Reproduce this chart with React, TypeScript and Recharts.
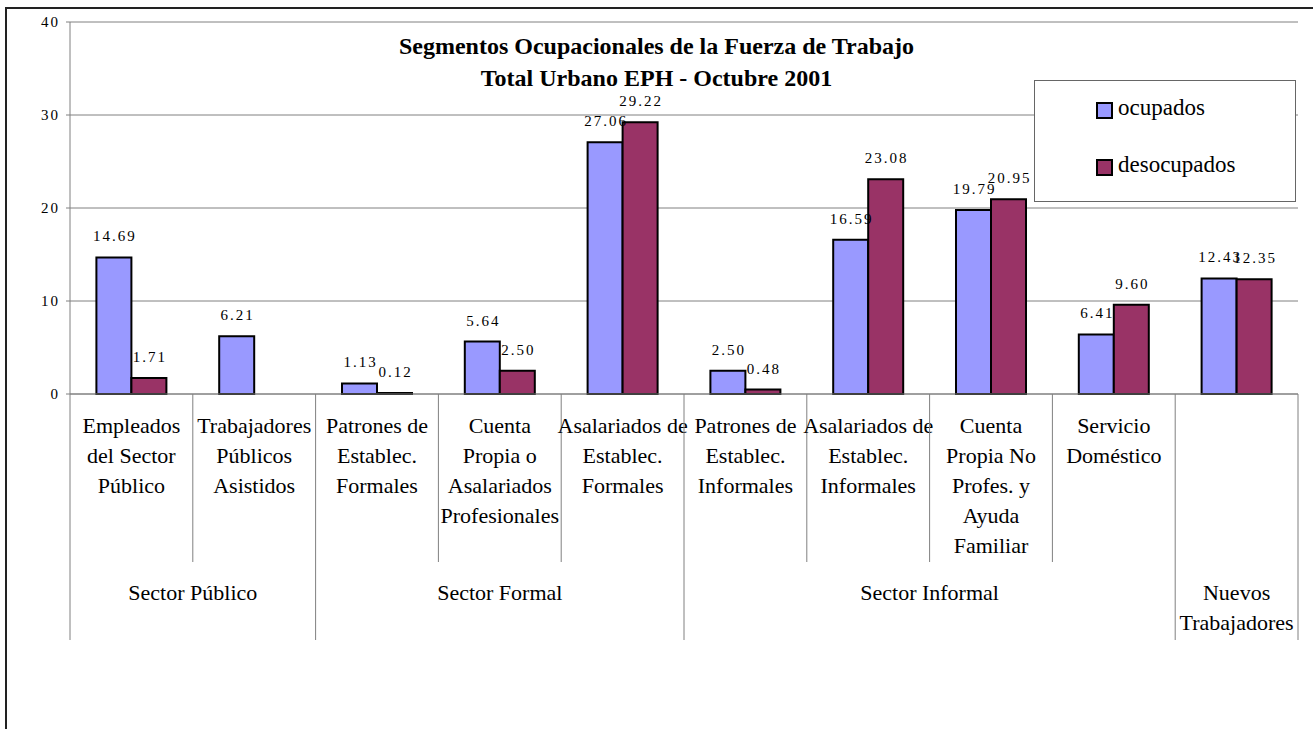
import React from "react";
import { BarChart, Bar, XAxis, YAxis, CartesianGrid, LabelList } from "recharts";

const SERIF = "'Liberation Serif', 'Times New Roman', serif";

// first level category labels (already broken into lines as in the original)
const categories = [
  ["Empleados", "del Sector", "Público"],
  ["Trabajadores", "Públicos", "Asistidos"],
  ["Patrones de", "Establec.", "Formales"],
  ["Cuenta", "Propia o", "Asalariados", "Profesionales"],
  ["Asalariados de", "Establec.", "Formales"],
  ["Patrones de", "Establec.", "Informales"],
  ["Asalariados de", "Establec.", "Informales"],
  ["Cuenta", "Propia No", "Profes. y", "Ayuda", "Familiar"],
  ["Servicio", "Doméstico"],
  [],
];

// second level groups and how many categories each covers
const groups = [["Sector Público"], ["Sector Formal"], ["Sector Informal"], ["Nuevos", "Trabajadores"]];
const groupSpans = [2, 3, 4, 1];

const seriesNames = ["ocupados", "desocupados"];
const seriesColors = ["#9999FF", "#993366"];

const ocupados = [14.69, 6.21, 1.13, 5.64, 27.06, 2.5, 16.59, 19.79, 6.41, 12.43];
const desocupados = [1.71, null, 0.12, 2.5, 29.22, 0.48, 23.08, 20.95, 9.6, 12.35];

const yTicks = [0, 10, 20, 30, 40];

const titleLines = ["Segmentos Ocupacionales de la Fuerza de Trabajo", "Total Urbano EPH - Octubre 2001"];

const data = categories.map((c, i) => ({
  name: c.join(" ") || "—" + i,
  ocupados: ocupados[i],
  desocupados: desocupados[i],
}));

const W = 1313;
const H = 729;
const margin = { top: 22, right: 15, bottom: 85, left: 8 };
const Y_AXIS_W = 62;
const PLOT_W = W - margin.left - margin.right - Y_AXIS_W;
const GRID = "#808080";

// index of first category of each group
const groupStarts: number[] = [];
groupSpans.reduce((acc, s) => {
  groupStarts.push(acc);
  return acc + s;
}, 0);

const CategoryTick = (props: any) => {
  const { x, y, index } = props;
  const bw = PLOT_W / categories.length;
  const left = x - bw / 2;
  const g = groupStarts.indexOf(index);
  const isStart = g >= 0;
  const last = index === categories.length - 1;
  const lines = categories[index] || [];
  return (
    <g>
      <line x1={left} x2={left} y1={y} y2={y + (isStart ? 246 : 168)} stroke={GRID} strokeWidth={1} />
      {last && <line x1={left + bw} x2={left + bw} y1={y} y2={y + 246} stroke={GRID} strokeWidth={1} />}
      <text x={x} y={y + 39} textAnchor="middle" fontFamily={SERIF} fontSize={22} fill="#000">
        {lines.map((l, k) => (
          <tspan key={k} x={x} dy={k === 0 ? 0 : 30}>
            {l}
          </tspan>
        ))}
      </text>
      {isStart && (
        <text
          x={left + (groupSpans[g] * bw) / 2}
          y={y + 206}
          textAnchor="middle"
          fontFamily={SERIF}
          fontSize={22}
          fill="#000"
        >
          {groups[g].map((l, k) => (
            <tspan key={k} x={left + (groupSpans[g] * bw) / 2} dy={k === 0 ? 0 : 30}>
              {l}
            </tspan>
          ))}
        </text>
      )}
    </g>
  );
};

const ValueTick = (props: any) => {
  const { x, y, payload } = props;
  return (
    <text x={x + 2} y={y} dy={5} textAnchor="end" fontFamily={SERIF} fontSize={15} letterSpacing={2} fill="#000">
      {payload.value}
    </text>
  );
};

const renderLabel = (p: any) => {
  const { x, y, width, value } = p;
  if (value === null || value === undefined) return null;
  return (
    <text
      x={x + width / 2 + 1}
      y={y - 16}
      textAnchor="middle"
      fontFamily={SERIF}
      fontSize={15}
      letterSpacing={2}
      fill="#000"
    >
      {Number(value).toFixed(2)}
    </text>
  );
};

export default function App() {
  return (
    <div
      style={{
        position: "absolute",
        left: 0,
        top: 0,
        width: W,
        height: H,
        overflow: "hidden",
        background: "#fff",
        fontFamily: SERIF,
      }}
    >
      <div
        style={{
          position: "absolute",
          left: 5,
          top: 7,
          width: W + 50,
          height: H + 50,
          borderLeft: "2px solid #222",
          borderTop: "2px solid #222",
        }}
      />
      <div style={{ position: "absolute", left: 0, top: 0 }}>
        <BarChart width={W} height={H} data={data} margin={margin} barCategoryGap="21.5%" barGap={0}>
          <CartesianGrid vertical={false} stroke={GRID} strokeWidth={1} />
          <XAxis
            dataKey="name"
            interval={0}
            height={250}
            tickSize={0}
            tickMargin={0}
            tickLine={false}
            axisLine={{ stroke: GRID }}
            tick={<CategoryTick />}
          />
          <YAxis
            width={Y_AXIS_W}
            domain={[0, 40]}
            ticks={yTicks}
            interval={0}
            tickSize={4}
            tickMargin={8}
            axisLine={{ stroke: GRID }}
            tickLine={{ stroke: GRID }}
            tick={<ValueTick />}
          />
          {seriesNames.map((s, i) => (
            <Bar key={s} dataKey={s} fill={seriesColors[i]} stroke="#000" strokeWidth={2} isAnimationActive={false}>
              <LabelList dataKey={s} content={renderLabel} />
            </Bar>
          ))}
        </BarChart>
      </div>

      <div
        style={{
          position: "absolute",
          left: 0,
          top: 30,
          width: W,
          textAlign: "center",
          fontWeight: "bold",
          fontSize: 24,
          lineHeight: "32px",
          color: "#000",
        }}
      >
        {titleLines.map((t) => (
          <div key={t}>{t}</div>
        ))}
      </div>

      <div
        style={{
          position: "absolute",
          left: 1034,
          top: 80,
          width: 262,
          height: 122,
          boxSizing: "border-box",
          border: "1px solid #666",
          background: "#fff",
        }}
      >
        {seriesNames.map((s, i) => (
          <div key={s} style={{ position: "absolute", left: 61, top: 21 + i * 57, height: 18 }}>
            <div
              style={{
                position: "absolute",
                left: 0,
                top: 0,
                width: 17,
                height: 17,
                boxSizing: "border-box",
                border: "2px solid #000",
                background: seriesColors[i],
              }}
            />
            <div
              style={{
                position: "absolute",
                left: 22,
                top: -6,
                fontSize: 23,
                lineHeight: "23px",
                whiteSpace: "nowrap",
                color: "#000",
              }}
            >
              {s}
            </div>
          </div>
        ))}
      </div>
    </div>
  );
}
